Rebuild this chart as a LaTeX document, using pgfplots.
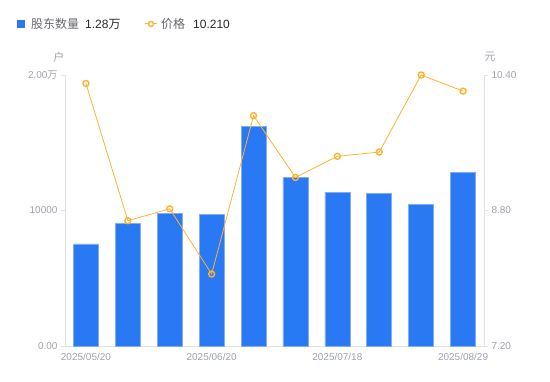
\documentclass[border=0pt]{standalone}
\usepackage{fontspec}
\setmainfont{Liberation Sans}
\newfontfamily\cjk{Noto Sans CJK SC}
\usepackage{pgfplots}
\pgfplotsset{compat=1.18}
\definecolor{barblue}{RGB}{41,121,245}
\definecolor{baredge}{RGB}{130,172,248}
\definecolor{lineorange}{RGB}{255,178,46}
\definecolor{axgrey}{RGB}{224,226,232}
\definecolor{ticktext}{RGB}{158,162,176}
\definecolor{legtext}{RGB}{102,102,110}
\definecolor{legdark}{RGB}{40,40,45}
\begin{document}
\begin{tikzpicture}
\path[use as bounding box] (-65pt,-35pt) rectangle (485pt,346pt);
\begin{axis}[
  at={(0,0)}, anchor=south west,
  scale only axis, width=419pt, height=271pt,
  xmin=-0.5, xmax=9.5, ymin=0, ymax=20000,
  axis x line*=bottom, axis y line*=left,
  axis line style={draw=axgrey, line width=0.8pt, -},
  every outer x axis line/.append style={-},
  every outer y axis line/.append style={-},
  xtick={0,3,6,9},
  xticklabels={2025/05/20,2025/06/20,2025/07/18,2025/08/29},
  xtick style={draw=none},
  ytick={0,10000,20000},
  yticklabels={0.00,10000,{2.00{\cjk 万}}},
  ytick style={draw=axgrey, line width=0.8pt},
  tick align=outside, major tick length=4pt,
  tick label style={font=\fontsize{10}{12}\selectfont, text=ticktext},
  scaled y ticks=false,
  clip=false,
]
\addplot[ybar, bar width=25pt, bar shift=0pt, fill=barblue, draw=baredge, line width=0.6pt] coordinates {
(0,7540) (1,9070) (2,9760) (3,9730) (4,16210) (5,12470) (6,11360) (7,11260) (8,10470) (9,12800)
};
\end{axis}
\begin{axis}[
  at={(0,0)}, anchor=south west,
  scale only axis, width=419pt, height=271pt,
  xmin=-0.5, xmax=9.5, ymin=7.2, ymax=10.4,
  axis x line=none, axis y line*=right,
  axis line style={draw=axgrey, line width=0.8pt, -},
  every outer y axis line/.append style={-},
  ytick={7.2,8.8,10.4},
  yticklabels={7.20,8.80,10.40},
  ytick style={draw=axgrey, line width=0.8pt},
  tick align=outside, major tick length=4pt,
  tick label style={font=\fontsize{10}{12}\selectfont, text=ticktext},
  clip=false,
]
\addplot[lineorange, line width=0.8pt, mark=o, mark size=3pt,
  mark options={fill=white, draw=lineorange, line width=1.4pt}] coordinates {
(0,10.30) (1,8.68) (2,8.82) (3,8.05) (4,9.92) (5,9.19) (6,9.44) (7,9.49) (8,10.40) (9,10.21)
};
\end{axis}
% unit labels
\node[text=ticktext, font=\cjk\fontsize{11}{13}\selectfont] at (-6pt,289pt) {户};
\node[text=ticktext, font=\cjk\fontsize{11}{13}\selectfont] at (425pt,289pt) {元};
% legend
\fill[barblue] (-48pt,318pt) rectangle (-40pt,326pt);
\node[anchor=west, inner sep=0pt, text=legtext, font=\cjk\fontsize{12}{14}\selectfont] at (-34pt,322pt) {股东数量};
\node[anchor=west, inner sep=0pt, text=legdark, font=\fontsize{12}{14}\selectfont] at (20pt,322pt) {1.28{\cjk 万}};
\draw[lineorange, line width=1pt] (80pt,322pt) -- (92pt,322pt);
\draw[lineorange, fill=white, line width=1.4pt] (86pt,322pt) circle (2.5pt);
\node[anchor=west, inner sep=0pt, text=legtext, font=\cjk\fontsize{12}{14}\selectfont] at (96pt,322pt) {价格};
\node[anchor=west, inner sep=0pt, text=legdark, font=\fontsize{12}{14}\selectfont] at (128pt,322pt) {10.210};
\end{tikzpicture}
\end{document}
